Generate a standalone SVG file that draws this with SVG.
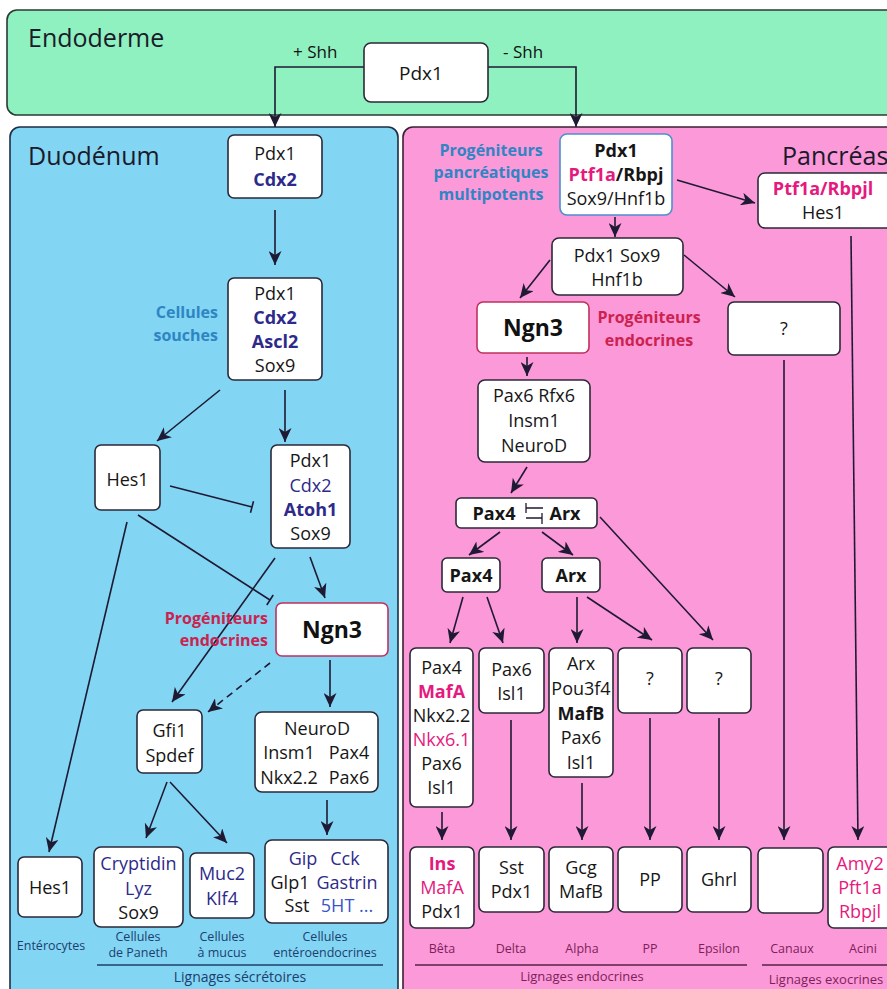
<svg xmlns="http://www.w3.org/2000/svg" width="887" height="989" viewBox="0 0 887 989">
<defs>
<marker id="ar" markerUnits="userSpaceOnUse" markerWidth="15" markerHeight="13" viewBox="0 0 15 13" refX="14" refY="6.5" orient="auto">
<path d="M0,0 L14,6.5 L0,13 L4,6.5 z" fill="#1f1a33"/>
</marker>
<style>
.box{fill:#fff;stroke:#2b2838;stroke-width:1.6}
.ln{stroke:#1f1a33;stroke-width:1.6;fill:none}
.a{marker-end:url(#ar)}
text{font-family:"Open Sans","Noto Sans",sans-serif}
.t{font-size:18px;text-anchor:middle;fill:#161616}
.b{font-weight:bold}
.navy{fill:#2e2a8a}
.mag{fill:#e5197e}
.big{font-size:25px;fill:#1a1a2a}
.ngn{font-size:23px;font-weight:bold;text-anchor:middle;fill:#111}
.lblb{font-size:16px;font-weight:bold;fill:#2f85c3}
.lblr{font-size:16px;font-weight:bold;fill:#cc2250}
.sm{font-size:12.5px;text-anchor:middle;fill:#1d3e6e}
.smp{font-size:12.5px;text-anchor:middle;fill:#7d1f5a}
</style>
</defs>

<!-- panels -->
<rect x="7" y="10" width="900" height="105" rx="10" fill="#8ff0c0" stroke="#2b3a33" stroke-width="1.6"/>
<rect x="10" y="127" width="388" height="890" rx="10" fill="#82d5f3" stroke="#1d2e45" stroke-width="1.6"/>
<rect x="403" y="127" width="500" height="890" rx="10" fill="#fc99d9" stroke="#3a1f33" stroke-width="1.6"/>
<text x="28" y="47" class="big">Endoderme</text>
<text x="28" y="165" class="big">Duodénum</text>
<text x="782" y="165" class="big">Pancréas</text>
<text x="293" y="58" style="font-size:17px;fill:#111">+ Shh</text>
<text x="503" y="58" style="font-size:17px;fill:#111">- Shh</text>

<g id="connectors">
<path class="ln a" d="M364,67 H275 V127"/>
<path class="ln a" d="M488,67 H576 V127"/>
<!-- duodenum -->
<line class="ln a" x1="275" y1="210" x2="275" y2="265"/>
<line class="ln a" x1="220" y1="390" x2="157" y2="441"/>
<line class="ln a" x1="285" y1="390" x2="285" y2="442"/>
<line class="ln" x1="170" y1="486" x2="252" y2="507"/>
<line class="ln" x1="250.5" y1="512.8" x2="253.5" y2="501.2"/>
<line class="ln" x1="138" y1="515" x2="270" y2="600"/>
<line class="ln" x1="266.8" y1="605" x2="273.2" y2="595"/>
<line class="ln a" x1="310" y1="557" x2="325" y2="598"/>
<line class="ln a" x1="275" y1="558" x2="172" y2="702"/>
<line class="ln a" x1="270" y1="663" x2="208" y2="712" stroke-dasharray="7,5"/>
<line class="ln a" x1="330" y1="660" x2="330" y2="707"/>
<line class="ln a" x1="167" y1="782" x2="146" y2="838"/>
<line class="ln a" x1="170" y1="782" x2="227" y2="843"/>
<line class="ln a" x1="327" y1="800" x2="327" y2="835"/>
<line class="ln a" x1="127" y1="522" x2="49" y2="852"/>
<!-- pancreas -->
<line class="ln a" x1="677" y1="180" x2="755" y2="203"/>
<line class="ln a" x1="615" y1="217" x2="615" y2="237"/>
<line class="ln a" x1="550" y1="260" x2="520" y2="298"/>
<line class="ln a" x1="684" y1="255" x2="735" y2="297"/>
<line class="ln a" x1="527" y1="357" x2="527" y2="376"/>
<line class="ln a" x1="527" y1="467" x2="511" y2="493"/>
<line class="ln a" x1="500" y1="532" x2="469" y2="555"/>
<line class="ln a" x1="542" y1="532" x2="573" y2="555"/>
<line class="ln a" x1="600" y1="517" x2="713" y2="640"/>
<line class="ln a" x1="463" y1="597" x2="450" y2="643"/>
<line class="ln a" x1="487" y1="597" x2="503" y2="643"/>
<line class="ln a" x1="577" y1="597" x2="577" y2="643"/>
<line class="ln a" x1="587" y1="597" x2="652" y2="640"/>
<line class="ln a" x1="442" y1="812" x2="442" y2="840"/>
<line class="ln a" x1="511" y1="720" x2="511" y2="840"/>
<line class="ln a" x1="582" y1="783" x2="582" y2="840"/>
<line class="ln a" x1="650" y1="718" x2="650" y2="840"/>
<line class="ln a" x1="719" y1="718" x2="719" y2="840"/>
<line class="ln a" x1="784" y1="360" x2="784" y2="840"/>
<line class="ln a" x1="851" y1="236" x2="858" y2="840"/>
</g>

<g id="n_endo_pdx1"><rect class="box" x="364" y="43" width="124" height="59" rx="7"/><text class="t" x="421" y="80" style="font-size:19px">Pdx1</text></g>

<!-- Duodenum nodes -->
<g id="n_d1"><rect class="box" x="228" y="135" width="94" height="63" rx="6"/>
<text class="t" x="275" y="160">Pdx1</text><text class="t b navy" x="275" y="186">Cdx2</text></g>
<g id="n_stem"><rect class="box" x="228" y="278" width="94" height="102" rx="6"/>
<text class="t" x="275" y="300">Pdx1</text><text class="t b navy" x="275" y="324">Cdx2</text>
<text class="t b navy" x="275" y="348">Ascl2</text><text class="t" x="275" y="372">Sox9</text></g>
<g id="lbl_stem"><text class="lblb" x="218" y="318" text-anchor="end">Cellules</text><text class="lblb" x="218" y="341" text-anchor="end">souches</text></g>
<g id="n_hes1"><rect class="box" x="95" y="445" width="65" height="65" rx="6"/><text class="t" x="127.5" y="486">Hes1</text></g>
<g id="n_atoh"><rect class="box" x="271" y="445" width="79" height="103" rx="6"/>
<text class="t" x="310.5" y="467">Pdx1</text><text class="t navy" x="310.5" y="492">Cdx2</text>
<text class="t b navy" x="310.5" y="516">Atoh1</text><text class="t" x="310.5" y="540">Sox9</text></g>
<g id="n_d_ngn3"><rect class="box" x="276" y="603" width="112" height="53" rx="6" style="stroke:#c0305e"/><text class="ngn" x="332" y="638">Ngn3</text></g>
<g id="lbl_d_prog"><text class="lblr" x="268" y="624" text-anchor="end">Progéniteurs</text><text class="lblr" x="268" y="646" text-anchor="end">endocrines</text></g>
<g id="n_gfi1"><rect class="box" x="137" y="710" width="65" height="63" rx="6"/>
<text class="t" x="169.5" y="737">Gfi1</text><text class="t" x="169.5" y="762">Spdef</text></g>
<g id="n_neurod"><rect class="box" x="255" y="712" width="123" height="80" rx="7"/>
<text class="t" x="317" y="735">NeuroD</text>
<text class="t" x="289" y="759">Insm1</text><text class="t" x="349" y="759">Pax4</text>
<text class="t" x="289" y="784">Nkx2.2</text><text class="t" x="349" y="784">Pax6</text></g>
<g id="n_ent"><rect class="box" x="18" y="857" width="64" height="60" rx="6"/><text class="t" x="50" y="894">Hes1</text></g>
<g id="n_paneth"><rect class="box" x="94" y="847" width="89" height="80" rx="7"/>
<text class="t navy" x="138.5" y="870">Cryptidin</text><text class="t navy" x="138.5" y="895">Lyz</text><text class="t" x="138.5" y="919">Sox9</text></g>
<g id="n_mucus"><rect class="box" x="190" y="853" width="64" height="65" rx="6"/>
<text class="t navy" x="222" y="880">Muc2</text><text class="t navy" x="222" y="905">Klf4</text></g>
<g id="n_eec"><rect class="box" x="265" y="840" width="123" height="83" rx="7"/>
<text class="t navy" x="303" y="865">Gip</text><text class="t navy" x="345" y="865">Cck</text>
<text class="t" x="290" y="889">Glp1</text><text class="t navy" x="347" y="889">Gastrin</text>
<text class="t" x="297" y="912">Sst</text><text class="t" x="347" y="912" style="fill:#3a55c8">5HT ...</text></g>
<g id="lbl_duo">
<text class="sm" x="51" y="950">Entérocytes</text>
<text class="sm" x="138" y="941">Cellules</text><text class="sm" x="138" y="957">de Paneth</text>
<text class="sm" x="222" y="941">Cellules</text><text class="sm" x="222" y="957">à mucus</text>
<text class="sm" x="325" y="941">Cellules</text><text class="sm" x="325" y="957">entéroendocrines</text>
<line x1="97" y1="965" x2="383" y2="965" stroke="#1d3e6e" stroke-width="1.4"/>
<text class="sm" x="240" y="982" style="font-size:14px">Lignages sécrétoires</text></g>

<!-- Pancreas nodes -->
<g id="n_mpc"><rect class="box" x="560" y="134" width="112" height="81" rx="7" style="stroke:#4d8fcf"/>
<text class="t b" x="616" y="157">Pdx1</text>
<text class="t b" x="616" y="181"><tspan class="mag">Ptf1a</tspan>/Rbpj</text>
<text class="t" x="616" y="205">Sox9/Hnf1b</text></g>
<g id="lbl_mpc"><text class="lblb" x="491" y="156" text-anchor="middle">Progéniteurs</text><text class="lblb" x="491" y="178" text-anchor="middle">pancréatiques</text><text class="lblb" x="491" y="200" text-anchor="middle">multipotents</text></g>
<g id="n_ptf"><rect class="box" x="758" y="173" width="140" height="55" rx="7"/>
<text class="t b mag" x="823" y="195">Ptf1a/Rbpjl</text><text class="t" x="823" y="219">Hes1</text></g>
<g id="n_psh"><rect class="box" x="552" y="238" width="131" height="57" rx="7"/>
<text class="t" x="617" y="262">Pdx1 Sox9</text><text class="t" x="617" y="286">Hnf1b</text></g>
<g id="n_p_ngn3"><rect class="box" x="477" y="302" width="112" height="51" rx="6" style="stroke:#c0305e"/><text class="ngn" x="533" y="336">Ngn3</text></g>
<g id="lbl_p_prog"><text class="lblr" x="649" y="323" text-anchor="middle">Progéniteurs</text><text class="lblr" x="649" y="346" text-anchor="middle">endocrines</text></g>
<g id="n_duct_q"><rect class="box" x="728" y="302" width="112" height="53" rx="6"/><text class="t" x="784" y="335">?</text></g>
<g id="n_pax6rfx"><rect class="box" x="478" y="380" width="112" height="82" rx="7"/>
<text class="t" x="534" y="402">Pax6  Rfx6</text><text class="t" x="534" y="427">Insm1</text><text class="t" x="534" y="452">NeuroD</text></g>
<g id="n_pax4arx"><rect class="box" x="456" y="498" width="141" height="30" rx="5"/>
<text class="t b" x="494" y="520">Pax4</text><text class="t b" x="565" y="520">Arx</text>
<path class="ln" d="M526,503 V513 M526,508 H543 M526,518 H542 M542,513 V524" style="stroke-width:1.3"/></g>
<g id="n_pax4"><rect class="box" x="442" y="558" width="58" height="34" rx="5"/><text class="t b" x="471" y="582">Pax4</text></g>
<g id="n_arx"><rect class="box" x="542" y="558" width="58" height="34" rx="5"/><text class="t b" x="571" y="582">Arx</text></g>
<g id="n_beta_p"><rect class="box" x="410" y="648" width="63" height="159" rx="6"/>
<text class="t" x="441.5" y="674">Pax4</text><text class="t b mag" x="441.5" y="698">MafA</text>
<text class="t" x="441.5" y="722">Nkx2.2</text><text class="t mag" x="441.5" y="746">Nkx6.1</text>
<text class="t" x="441.5" y="770">Pax6</text><text class="t" x="441.5" y="794">Isl1</text></g>
<g id="n_delta_p"><rect class="box" x="479" y="648" width="65" height="65" rx="6"/>
<text class="t" x="511.5" y="676">Pax6</text><text class="t" x="511.5" y="700">Isl1</text></g>
<g id="n_alpha_p"><rect class="box" x="549" y="648" width="64" height="129" rx="6"/>
<text class="t" x="581" y="670">Arx</text><text class="t" x="581" y="695">Pou3f4</text>
<text class="t b" x="581" y="720">MafB</text><text class="t" x="581" y="744">Pax6</text><text class="t" x="581" y="769">Isl1</text></g>
<g id="n_pp_p"><rect class="box" x="618" y="648" width="64" height="65" rx="6"/><text class="t" x="650" y="685">?</text></g>
<g id="n_eps_p"><rect class="box" x="687" y="648" width="64" height="65" rx="6"/><text class="t" x="719" y="685">?</text></g>
<g id="n_beta"><rect class="box" x="410" y="847" width="64" height="81" rx="6"/>
<text class="t b mag" x="442" y="870">Ins</text><text class="t mag" x="442" y="894">MafA</text><text class="t" x="442" y="918">Pdx1</text></g>
<g id="n_delta"><rect class="box" x="479" y="847" width="65" height="65" rx="6"/>
<text class="t" x="511.5" y="874">Sst</text><text class="t" x="511.5" y="898">Pdx1</text></g>
<g id="n_alpha"><rect class="box" x="549" y="847" width="64" height="65" rx="6"/>
<text class="t" x="581" y="874">Gcg</text><text class="t" x="581" y="898">MafB</text></g>
<g id="n_pp"><rect class="box" x="618" y="847" width="64" height="65" rx="6"/><text class="t" x="650" y="886">PP</text></g>
<g id="n_eps"><rect class="box" x="687" y="847" width="64" height="65" rx="6"/><text class="t" x="719" y="886">Ghrl</text></g>
<g id="n_canaux"><rect class="box" x="758" y="848" width="65" height="65" rx="6"/></g>
<g id="n_acini"><rect class="box" x="828" y="847" width="70" height="81" rx="6"/>
<text class="t mag" x="860" y="870">Amy2</text><text class="t mag" x="860" y="894">Pft1a</text><text class="t mag" x="860" y="918">Rbpjl</text></g>
<g id="lbl_panc">
<text class="smp" x="442" y="953">Bêta</text><text class="smp" x="511" y="953">Delta</text>
<text class="smp" x="582" y="953">Alpha</text><text class="smp" x="650" y="953">PP</text>
<text class="smp" x="719" y="953">Epsilon</text><text class="smp" x="792" y="953">Canaux</text>
<text class="smp" x="863" y="953">Acini</text>
<line x1="415" y1="965" x2="747" y2="965" stroke="#5a1f45" stroke-width="1.4"/>
<line x1="762" y1="965" x2="890" y2="965" stroke="#5a1f45" stroke-width="1.4"/>
<text class="smp" x="582" y="981" style="font-size:13px">Lignages endocrines</text>
<text class="smp" x="826" y="984" style="font-size:13px">Lignages exocrines</text></g>
</svg>
